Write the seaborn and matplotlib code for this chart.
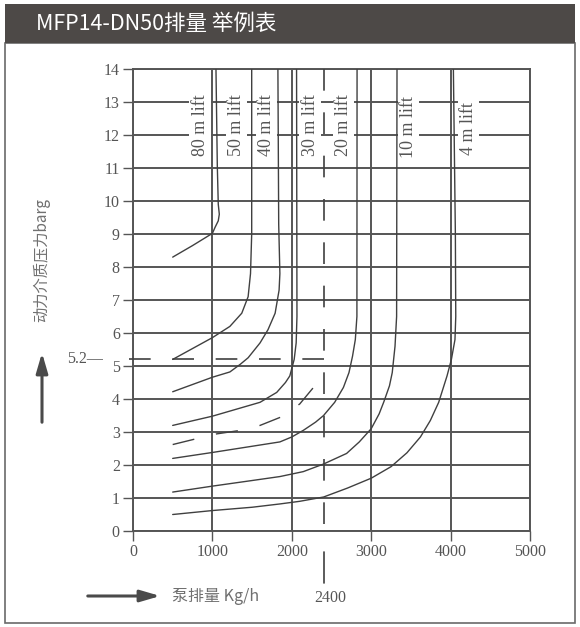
import matplotlib
matplotlib.use('Agg')
import matplotlib.pyplot as plt
import seaborn as sns
from matplotlib.patches import Rectangle

# ---------------------------------------------------------- DATOS
lifts = ['80 m lift', '50 m lift', '40 m lift', '30 m lift', '20 m lift', '10 m lift', '4 m lift']
label_x = [845, 1305, 1685, 2230, 2650, 3470, 4225]
label_y = [12.3, 12.3, 12.3, 12.3, 12.3, 12.25, 12.2]

flow_80 = [500, 750, 1000, 1033, 1074, 1087, 1074, 1062, 1045]
pres_80 = [8.3, 8.65, 9.02, 9.2, 9.4, 9.6, 9.9, 11.05, 14.0]

flow_50 = [500, 1000, 1220, 1370, 1450, 1480, 1495, 1495]
pres_50 = [5.2, 5.86, 6.2, 6.6, 7.1, 7.8, 9.0, 14.0]

flow_40 = [500, 1000, 1220, 1350, 1450, 1600, 1700, 1790, 1840, 1850, 1835, 1825]
pres_40 = [4.22, 4.66, 4.82, 5.05, 5.25, 5.7, 6.1, 6.6, 7.3, 7.8, 9.3, 14.0]

flow_30 = [500, 1000, 1600, 1810, 1920, 1975, 2030, 2055, 2065, 2060]
pres_30 = [3.2, 3.48, 3.9, 4.2, 4.5, 4.7, 5.2, 5.7, 6.5, 14.0]

flow_20 = [500, 1000, 1850, 2000, 2145, 2300, 2400, 2540, 2650, 2720, 2765, 2800, 2820, 2822]
pres_20 = [2.2, 2.38, 2.7, 2.85, 3.05, 3.3, 3.5, 3.9, 4.35, 4.8, 5.3, 5.8, 6.5, 14.0]

flow_10 = [500, 1000, 1500, 1850, 2145, 2400, 2690, 2850, 3000, 3100, 3160, 3230, 3265, 3300, 3320, 3325]
pres_10 = [1.18, 1.36, 1.53, 1.65, 1.8, 2.03, 2.35, 2.7, 3.1, 3.55, 3.92, 4.4, 4.8, 5.6, 6.5, 14.0]

flow_4 = [500, 1000, 1500, 1850, 2100, 2400, 2700, 3000, 3250, 3450, 3620, 3745, 3850, 3955, 4010, 4055, 4065, 4060, 4045, 4035]
pres_4 = [0.5, 0.62, 0.72, 0.82, 0.9, 1.03, 1.3, 1.6, 1.95, 2.37, 2.85, 3.35, 3.9, 4.7, 5.2, 5.8, 6.5, 9.0, 12.0, 14.0]

# curva discontinua del ejemplo
flow_ej = [500, 770, 1045, 1325, 1600, 1870, 2100, 2290]
pres_ej = [2.62, 2.78, 2.94, 3.04, 3.2, 3.46, 3.85, 4.4]

# punto del ejemplo
ej_presion = 5.2
ej_caudal = 2400

curvas_x = [flow_80, flow_50, flow_40, flow_30, flow_20, flow_10, flow_4]
curvas_y = [pres_80, pres_50, pres_40, pres_30, pres_20, pres_10, pres_4]

# ---------------------------------------------------------- ESTILO
sns.set_style('white')
plt.rcParams['font.family'] = ['Liberation Serif', 'DejaVu Serif']
cjk = ['Noto Sans CJK SC', 'DejaVu Sans']
gris = '#555555'
linea = '#404040'

fig = plt.figure(figsize=(5.8, 6.27), dpi=100)

# marco exterior y barra de título
fig.patches.append(Rectangle((0.0086, 0.0064), 0.9828, 0.925, transform=fig.transFigure,
                             fill=False, ec='#6a6a6a', lw=1.2, zorder=0))
fig.patches.append(Rectangle((0.0086, 0.9314), 0.9828, 0.0622, transform=fig.transFigure,
                             fc='#4d4947', ec='none', zorder=1))
fig.text(0.062, 0.9617, 'MFP14-DN50排量 举例表', color='white', fontsize=15.5,
         family=cjk, ha='left', va='center')

ax = fig.add_axes([0.2293, 0.1531, 0.6845, 0.7368])

# curvas de elevación
for fx, fy in zip(curvas_x, curvas_y):
    sns.lineplot(x=fx, y=fy, sort=False, estimator=None, color=linea, lw=1.0, ax=ax, zorder=4)

sns.lineplot(x=flow_ej, y=pres_ej, sort=False, estimator=None, color=linea, lw=1.0,
             linestyle=(0, (16, 16)), ax=ax, zorder=4)

# líneas discontinuas del ejemplo (dibujadas desde el punto 2400 hacia fuera)
ax.plot([ej_caudal, -50], [ej_presion, ej_presion], color=linea, lw=1.2,
        linestyle=(0, (13, 13)), clip_on=False, zorder=4)
ax.plot([ej_caudal, ej_caudal], [14, 0], color=linea, lw=1.2,
        linestyle=(0, (13, 13)), zorder=4)
ax.plot([ej_caudal, ej_caudal], [-0.045, -0.113], color=linea, lw=1.2,
        transform=ax.get_xaxis_transform(), clip_on=False)
ax.text(ej_caudal + 80, -0.145, '2400', transform=ax.get_xaxis_transform(),
        ha='center', va='center', fontsize=11.5, color=gris)
ax.text(-0.075, ej_presion, '5.2—', transform=ax.get_yaxis_transform(),
        ha='right', va='center', fontsize=11.5, color=gris)

# etiquetas de elevación
for nombre, lx, ly in zip(lifts, label_x, label_y):
    ax.text(lx, ly, nombre, rotation=90, ha='center', va='center', fontsize=13,
            color=gris, bbox=dict(fc='white', ec='none', pad=1.5), zorder=3)

ax.set_xlim(0, 5000)
ax.set_ylim(0, 14)
ax.set_xticks(range(0, 5001, 1000))
ax.set_yticks(range(0, 15))
ax.grid(True, color=gris, lw=1.4)
ax.tick_params(length=7.5, width=1.0, color=gris, labelsize=11.5, labelcolor=gris,
               left=True, bottom=True, pad=2)
for s in ax.spines.values():
    s.set_color(gris)
    s.set_linewidth(1.4)
ax.set_xlabel('')
ax.set_ylabel('')

# títulos de ejes con flechas
fig.text(0.0724, 0.585, '动力介质压力barg', rotation=90, family=cjk, fontsize=11,
         color='#707070', ha='center', va='center')
fig.text(0.2966, 0.0494, '泵排量 Kg/h', family=cjk, fontsize=11.5,
         color='#707070', ha='left', va='center')

ax.annotate('', xy=(42, 627 - 350), xytext=(42, 627 - 425), xycoords='figure pixels',
            textcoords='figure pixels',
            arrowprops=dict(arrowstyle='-|>,head_length=1.2,head_width=0.35', lw=2.2, color='#4a4a4a'))
ax.annotate('', xy=(163, 627 - 596), xytext=(85, 627 - 596), xycoords='figure pixels',
            textcoords='figure pixels',
            arrowprops=dict(arrowstyle='-|>,head_length=1.2,head_width=0.35', lw=2.2, color='#4a4a4a'))

fig.savefig('out.png', dpi=100)
